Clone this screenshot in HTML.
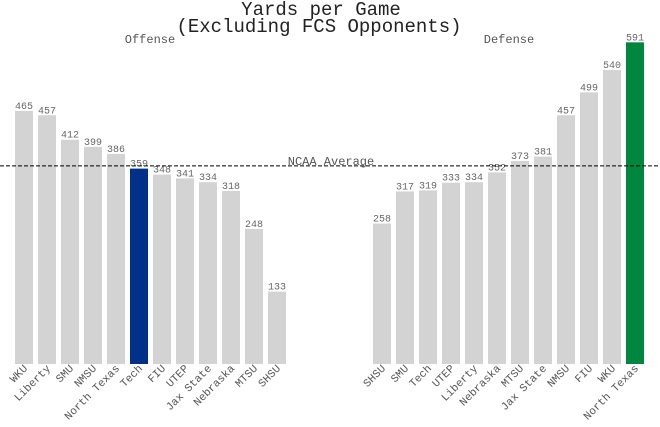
<!DOCTYPE html>
<html><head><meta charset="utf-8"><style>
body{margin:0;background:#fff}
svg{display:block;font-family:"Liberation Mono",monospace}
</style></head><body>
<svg id="chart" width="660" height="427" viewBox="0 0 660 427">
<text x="321" y="15" text-anchor="middle" font-size="19" fill="#222">Yards per Game</text>
<text x="319" y="32" text-anchor="middle" font-size="19" fill="#222">(Excluding FCS Opponents)</text>
<text x="150" y="43" text-anchor="middle" font-size="12" fill="#555">Offense</text>
<text x="509" y="43" text-anchor="middle" font-size="12" fill="#555">Defense</text>
<g id="bars"></g>
<line id="avgline" x1="0" x2="660" stroke="#000" stroke-dasharray="4,2" stroke-width="1"/>
<text id="avglabel" x="331" text-anchor="middle" font-size="12" fill="#555">NCAA Average</text>
</svg>
<script>
const offenseTeams=["WKU","Liberty","SMU","NMSU","North Texas","Tech","FIU","UTEP","Jax State","Nebraska","MTSU","SHSU"];
const offenseValues=[465,457,412,399,386,359,348,341,334,318,248,133];
const defenseTeams=["SHSU","SMU","Tech","UTEP","Liberty","Nebraska","MTSU","Jax State","NMSU","FIU","WKU","North Texas"];
const defenseValues=[258,317,319,333,334,352,373,381,457,499,540,591];
const ncaaAverage=364;
const NS="http://www.w3.org/2000/svg";
const baseY=364, pxPer=0.5443;
function y(v){return baseY-v*pxPer;}
const g=document.getElementById('bars');
function panel(teams,vals,x0,hlName,hlColor,prefix){
  teams.forEach((t,i)=>{
    const x=x0+i*23, v=vals[i];
    const r=document.createElementNS(NS,'rect');
    
    
    r.setAttribute('x',x);r.setAttribute('width',18);
    r.setAttribute('y',y(v));r.setAttribute('height',baseY-y(v));
    r.setAttribute('fill',t===hlName?hlColor:'#d3d3d3');
    g.appendChild(r);
    const vl=document.createElementNS(NS,'text');
    
    
    vl.setAttribute('x',x+9);vl.setAttribute('y',y(v)-2);
    vl.setAttribute('text-anchor','middle');vl.setAttribute('font-size','10');vl.setAttribute('fill','#666');
    vl.textContent=v;g.appendChild(vl);
    const tl=document.createElementNS(NS,'text');
    
    
    const cx=x+13, cy=369;
    tl.setAttribute('x',cx);tl.setAttribute('y',cy);
    tl.setAttribute('text-anchor','end');tl.setAttribute('font-size','11');tl.setAttribute('fill','#555');
    tl.setAttribute('transform','rotate(-45 '+cx+' '+cy+')');
    tl.textContent=t;g.appendChild(tl);
  });
}
panel(offenseTeams,offenseValues,15,'Tech','#003087','offense');
panel(defenseTeams,defenseValues,373,'North Texas','#00873e','defense');
const al=document.getElementById('avgline');
al.setAttribute('y1',y(ncaaAverage));al.setAttribute('y2',y(ncaaAverage));
document.getElementById('avglabel').setAttribute('y',y(ncaaAverage)-1);
</script>
</body></html>
